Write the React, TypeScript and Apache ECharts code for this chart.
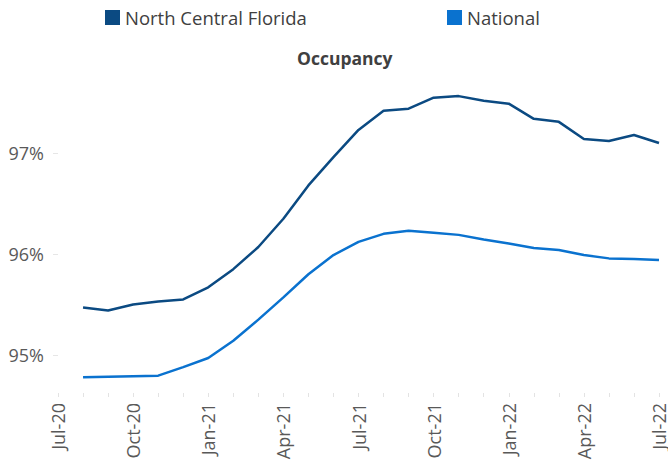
import React, { useEffect, useRef } from "react";
import * as echarts from "echarts";

const months = [
  "Jul-20", "Aug-20", "Sep-20", "Oct-20", "Nov-20", "Dec-20",
  "Jan-21", "Feb-21", "Mar-21", "Apr-21", "May-21", "Jun-21",
  "Jul-21", "Aug-21", "Sep-21", "Oct-21", "Nov-21", "Dec-21",
  "Jan-22", "Feb-22", "Mar-22", "Apr-22", "May-22", "Jun-22", "Jul-22",
];

const northCentralFlorida = [
  null, 95.47, 95.44, 95.5, 95.53, 95.55,
  95.67, 95.85, 96.07, 96.35, 96.68, 96.96,
  97.23, 97.42, 97.44, 97.55, 97.565, 97.52,
  97.49, 97.34, 97.31, 97.14, 97.12, 97.18, 97.1,
];

const national = [
  null, 94.78, 94.785, 94.79, 94.795, 94.88,
  94.97, 95.14, 95.35, 95.57, 95.8, 95.99,
  96.12, 96.2, 96.23, 96.21, 96.19, 96.145,
  96.105, 96.06, 96.04, 95.99, 95.957, 95.95, 95.94,
];

const yTicks = [95, 96, 97];

const FONT = "Open Sans";

export default function App() {
  const ref = useRef<HTMLDivElement>(null);
  useEffect(() => {
    if (!ref.current) return;
    const chart = echarts.init(ref.current, null, { renderer: "svg" });
    chart.setOption({
      animation: false,
      title: {
        text: "Occupancy",
        left: 292,
        top: 44,
        textStyle: { fontFamily: FONT, fontSize: 17.5, fontWeight: "bold", color: "#404040" },
      },
      legend: [
        {
          data: ["North Central Florida"],
          left: 100,
          top: 3,
          itemWidth: 15,
          itemHeight: 15,
          icon: "rect",
          textStyle: { fontFamily: FONT, fontSize: 18.5, color: "#404040" },
        },
        {
          data: ["National"],
          left: 442,
          top: 3,
          itemWidth: 15,
          itemHeight: 15,
          icon: "rect",
          textStyle: { fontFamily: FONT, fontSize: 18.5, color: "#404040" },
        },
      ],
      grid: { left: 58, right: 9, top: 72, bottom: 70, containLabel: false },
      xAxis: {
        type: "category",
        data: months,
        boundaryGap: false,
        axisLine: { show: false },
        axisTick: { show: true, interval: 0, length: 4, lineStyle: { color: "#e3e3e3" } },
        axisLabel: {
          interval: 2,
          rotate: 90,
          margin: 10,
          fontFamily: FONT,
          fontSize: 18,
          color: "#595959",
        },
        splitLine: { show: false },
      },
      yAxis: {
        type: "value",
        min: 94.623,
        max: 97.804,
        axisLine: { show: false },
        axisTick: { show: true, customValues: yTicks, length: 5, lineStyle: { color: "#e6e6e6" } },
        axisLabel: {
          customValues: yTicks,
          margin: 14,
          fontFamily: FONT,
          fontSize: 18,
          color: "#595959",
          formatter: (v: number) => `${Math.round(v)}%`,
        },
        splitLine: { show: false },
      },
      series: [
        {
          name: "North Central Florida",
          type: "line",
          data: northCentralFlorida,
          showSymbol: false,
          symbol: "none",
          color: "#0B4A82",
          lineStyle: { width: 2.5, color: "#0B4A82" },
        },
        {
          name: "National",
          type: "line",
          data: national,
          showSymbol: false,
          symbol: "none",
          color: "#0A72CF",
          lineStyle: { width: 2.5, color: "#0A72CF" },
        },
      ],
    });
    return () => chart.dispose();
  }, []);
  return <div ref={ref} style={{ width: 668, height: 463, position: "absolute", left: 0, top: 0 }} />;
}
